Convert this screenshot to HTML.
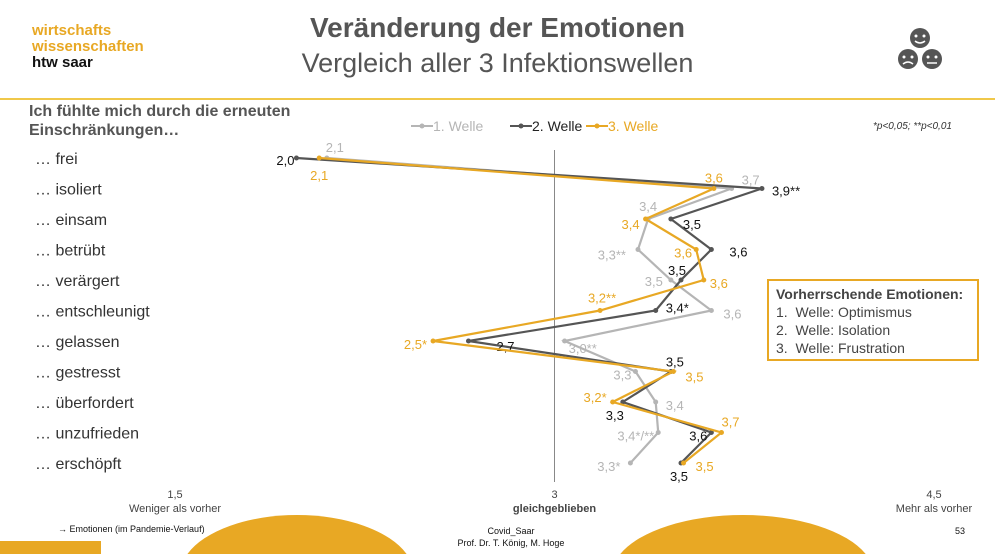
<!DOCTYPE html>
<html style="overflow:hidden;width:995px;height:554px"><head><meta charset="utf-8">
<style>
html,body{margin:0;padding:0}
body{width:995px;height:554px;background:#fff;overflow:hidden;position:relative;font-family:"Liberation Sans",sans-serif}
#wrap{position:absolute;left:0;top:0;width:995px;height:554px;overflow:hidden}
.abs{position:absolute;white-space:nowrap}
</style></head><body><div id="wrap">
<svg class="abs" style="left:0;top:0" width="995" height="554">
<rect x="0" y="541" width="101" height="13" fill="#e8a824"/>
<path d="M187.4,554 A117,60 0 0 1 406.6,554 Z" fill="#e8a824"/>
<path d="M620.3,554 A131,60 0 0 1 865.7,554 Z" fill="#e8a824"/>
</svg>
<div class="abs" style="left:32px;top:23px;font-size:15px;font-weight:bold;line-height:16px;color:#e8a824">wirtschafts<br>wissenschaften<br><span style="color:#111">htw saar</span></div>
<div class="abs" style="left:0;width:995px;top:12px;text-align:center;font-size:28px;font-weight:bold;color:#555">Veränderung der Emotionen</div>
<div class="abs" style="left:0;width:995px;top:48px;text-align:center;font-size:27px;color:#555">Vergleich aller 3 Infektionswellen</div>
<div class="abs" style="left:0;top:98px;width:995px;height:2px;background:#f0c84a"></div>
<div class="abs" style="left:29px;top:102px;font-size:16px;font-weight:bold;color:#555;line-height:19px">Ich fühlte mich durch die erneuten<br>Einschränkungen…</div>
<div class="abs" style="left:873px;top:121px;font-size:10px;font-style:italic;color:#333">*p&lt;0,05; **p&lt;0,01</div>
<div class="abs" style="left:767px;top:279px;width:212px;height:82px;border:2px solid #e8a824;font-size:14px;color:#444;line-height:18px;padding:4px 0 0 7px;box-sizing:border-box">
<b>Vorherrschende Emotionen:</b><br>1.&nbsp;&nbsp;Welle: Optimismus<br>2.&nbsp;&nbsp;Welle: Isolation<br>3.&nbsp;&nbsp;Welle: Frustration</div>
<svg class="abs" style="left:896px;top:26px" width="48" height="46" viewBox="0 0 48 46">
<g fill="#555"><circle cx="24" cy="12" r="10"/><circle cx="12" cy="33" r="10"/><circle cx="36" cy="33" r="10"/></g>
<g fill="#fff"><circle cx="20" cy="10" r="1.5"/><circle cx="28" cy="10" r="1.5"/><circle cx="8" cy="31" r="1.5"/><circle cx="16" cy="31" r="1.5"/><circle cx="32" cy="31" r="1.5"/><circle cx="40" cy="31" r="1.5"/></g>
<g stroke="#fff" stroke-width="1.5" fill="none"><path d="M19 15 Q24 19 29 15"/><path d="M7 38 Q12 34 17 38"/><path d="M31 37 H41"/></g></svg>
<svg id="chart" class="abs" style="left:0;top:0" width="995" height="554"></svg>
<div class="abs" style="left:58px;top:524px;font-size:9px;line-height:11px;color:#111">→ Emotionen (im Pandemie-Verlauf)</div>
<div class="abs" style="left:411px;width:200px;top:525px;text-align:center;font-size:9px;color:#111;line-height:12px">Covid_Saar<br>Prof. Dr. T. König, M. Hoge</div>
<div class="abs" style="left:955px;top:526px;font-size:9px;line-height:11px;color:#111">53</div>
</div>
<script>
const categories=["… frei","… isoliert","… einsam","… betrübt","… verärgert","… entschleunigt","… gelassen","… gestresst","… überfordert","… unzufrieden","… erschöpft"];
const welle1=[2.10,3.70,3.37,3.33,3.46,3.62,3.04,3.32,3.40,3.41,3.30];
const welle2=[1.98,3.82,3.46,3.62,3.50,3.40,2.66,3.46,3.27,3.62,3.50];
const welle3=[2.07,3.63,3.36,3.56,3.59,3.18,2.52,3.47,3.23,3.66,3.51];
const labels1=["2,1","3,7","3,4","3,3**","3,5","3,6","3,0**","3,3","3,4","3,4*/**","3,3*"];
const labels2=["2,0","3,9**","3,5","3,6","3,5","3,4*","2,7","3,5","3,3","3,6","3,5"];
const labels3=["2,1","3,6","3,4","3,6","3,6","3,2**","2,5*","3,5","3,2*","3,7","3,5"];
const tickValues=[1.5,3,4.5];
const tickLabels=["1,5","3","4,5"];
const tickDesc=["Weniger als vorher","gleichgeblieben","Mehr als vorher"];
const seriesNames=["1. Welle","2. Welle","3. Welle"];

const svg=document.getElementById('chart');const NS="http://www.w3.org/2000/svg";
const x=v=>175+(v-1.5)*253;
const y=i=>158+i*30.5;
function mk(t,a,p){const e=document.createElementNS(NS,t);for(const k in a)e.setAttribute(k,a[k]);(p||svg).appendChild(e);return e;}
const cl=mk('line',{x1:x(3),x2:x(3),y1:150,y2:482,stroke:'#888','stroke-width':1});


categories.forEach((c,i)=>{const t=mk('text',{x:35,y:y(i)+6,'font-size':16,fill:'#333'});t.textContent=c;

});
tickValues.forEach((v,i)=>{const t=mk('text',{x:x(v),y:498,'font-size':11,fill:'#444','text-anchor':'middle'});t.textContent=tickLabels[i];


const d=mk('text',{x:x(v),y:512,'font-size':11,fill:'#444','text-anchor':'middle','font-weight':i==1?'bold':'normal'});d.textContent=tickDesc[i];

});
const colors=["#b5b5b5","#555555","#e8a824"];
const data=[welle1,welle2,welle3];const labs=[labels1,labels2,labels3];
const off=[
[[8,-8,'middle'],[10,-6,'start'],[0,-10,'middle'],[-12,8,'end'],[-8,4,'end'],[12,6,'start'],[4,10,'start'],[-4,6,'end'],[10,6,'start'],[-4,6,'end'],[-10,6,'end']],
[[-2,5,'end'],[10,5,'start'],[12,8,'start'],[18,5,'start'],[-4,-7,'middle'],[10,0,'start'],[28,8,'start'],[4,-7,'middle'],[-8,16,'middle'],[-4,6,'end'],[-2,16,'middle']],
[[0,20,'middle'],[0,-8,'middle'],[-6,8,'end'],[-4,6,'end'],[6,6,'start'],[2,-10,'middle'],[-6,6,'end'],[12,8,'start'],[-6,-2,'end'],[0,-8,'start'],[12,6,'start']]];
data.forEach((s,k)=>{
 const p=mk('polyline',{points:s.map((v,i)=>x(v)+','+y(i)).join(' '),fill:'none',stroke:colors[k],'stroke-width':2.2,'stroke-linejoin':'miter'});
 
 
 s.forEach((v,i)=>{const c=mk('circle',{cx:x(v),cy:y(i),r:2.5,fill:colors[k]});
 
 
 const o=off[k][i];const t=mk('text',{x:x(v)+o[0],y:y(i)+o[1]+2,'font-size':13,fill:k==1?'#111':colors[k],'text-anchor':o[2]});t.textContent=labs[k][i];
 
 });
});
seriesNames.forEach((n,k)=>{const lx=[411,510,586][k];
 const l=mk('line',{x1:lx,x2:lx+22,y1:126,y2:126,stroke:colors[k],'stroke-width':2});
 
 
 mk('circle',{cx:lx+11,cy:126,r:2.5,fill:colors[k]});
 const t=mk('text',{x:lx+22,y:131,'font-size':14,fill:k==1?'#222':colors[k]});t.textContent=n;
 
 });
</script>
</body></html>
